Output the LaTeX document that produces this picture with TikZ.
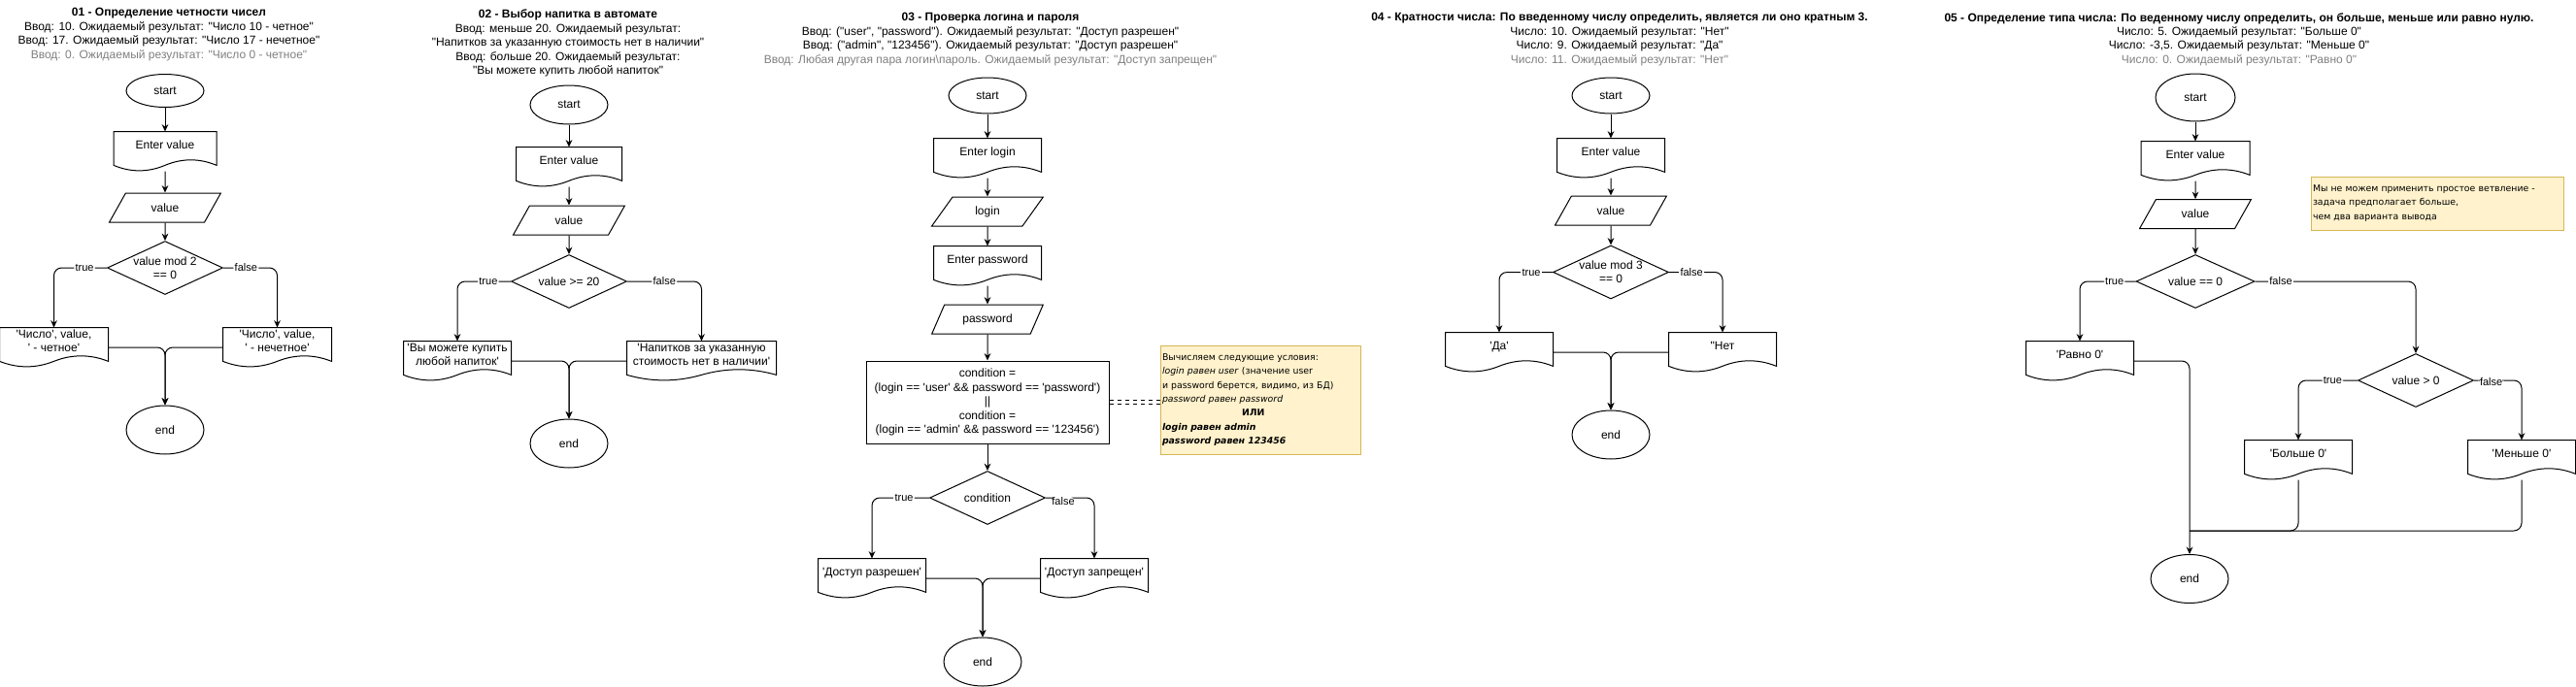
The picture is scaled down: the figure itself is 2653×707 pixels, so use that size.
\documentclass[tikz,border=0pt]{standalone}
\usepackage{fontspec}
\setmainfont{Liberation Sans}[Ligatures=TeXOff]
\newfontfamily\notefont{DejaVu Sans}[Ligatures=TeXOff]
\usetikzlibrary{shapes.geometric,arrows.meta,calc}
\definecolor{notefill}{HTML}{FFF2CC}
\definecolor{noteline}{HTML}{D6B656}
\definecolor{hintgray}{HTML}{808080}
\tikzset{
  term/.style={ellipse, draw, minimum width=60pt, minimum height=#1, inner sep=0pt},
  docbox/.style={minimum width=#1*0.75pt, minimum height=30pt, inner xsep=2pt, inner ysep=0pt, text depth=10pt, align=center},
  io/.style={trapezium, draw, trapezium left angle=56, trapezium right angle=124, trapezium stretches=true, minimum width=86.25pt, minimum height=22.5pt, inner sep=0pt},
  cond/.style={diamond, draw, minimum width=89.25pt, minimum height=41.25pt, inner sep=0pt},
  procbox/.style={draw, minimum width=187.5pt, minimum height=63.75pt, align=center},
  note/.style={draw=noteline, fill=notefill, font=\notefont\fontsize{7}{10.8}\selectfont, align=left, inner xsep=1.5pt},
  heading/.style={align=center},
  flow/.style={-{Stealth[length=5.5pt,width=5pt]}, rounded corners=6pt},
  merge/.style={rounded corners=6pt},
  lbl/.style={fill=white, inner sep=1pt, font=\fontsize{8.25}{9.9}\selectfont},
  notelink/.style={dashed, double, double distance=2pt}
}
\begin{document}
\begin{tikzpicture}[x=0.75pt, y=-0.75pt, line width=0.75pt, font=\fontsize{9}{10.8}\selectfont]
\useasboundingbox (0,0) rectangle (2653,707);

\node[heading] (t1) at (174,35.5) {\textbf{01 - Определение четности чисел}\\Ввод: 10. Ожидаемый результат: "Число 10 - четное"\\Ввод: 17. Ожидаемый результат: "Число 17 - нечетное"\\\textcolor{hintgray}{Ввод: 0. Ожидаемый результат: "Число 0 - четное"}};
\node[term=25.5pt] (s1) at (170,93.5) {start};
\node[docbox=105] (e1) at (170,156) {Enter value};
\node[io] (v1) at (170,214) {value};
\node[cond, label={[align=center]center:{value mod 2\\== 0}}] (q1) at (170,276) {};
\node[docbox=111] (o1a) at (55.5,358) {'Число', value,\\' - четное'};
\node[docbox=111] (o1b) at (285.5,358) {'Число', value,\\' - нечетное'};
\node[term=37.5pt] (f1) at (170,443) {end};
\draw[flow] (s1) -- (e1);
\draw[flow] (e1) -- (v1);
\draw[flow] (v1) -- (q1);
\draw[flow] (q1.west) -| node[lbl,pos=.21]{true} (o1a.north);
\draw[flow] (q1.east) -| node[lbl,pos=.21]{false} (o1b.north);
\draw[flow] (o1a.east) -| (f1.north);
\draw[flow] (o1b.west) -| (f1.north);

\node[heading] (t2) at (585,44.5) {\textbf{02 - Выбор напитка в автомате}\\Ввод: меньше 20. Ожидаемый результат:\\"Напитков за указанную стоимость нет в наличии"\\Ввод: больше 20. Ожидаемый результат:\\"Вы можете купить любой напиток"};
\node[term=30pt] (s2) at (586,108) {start};
\node[docbox=108] (e2) at (586,172) {Enter value};
\node[io] (v2) at (586,227) {value};
\node[cond, label={center:{value >= 20}}] (q2) at (586,290) {};
\node[docbox=110] (o2a) at (471,372) {'Вы можете купить\\любой напиток'};
\node[docbox=153] (o2b) at (722.5,372) {'Напитков за указанную\\стоимость нет в наличии'};
\node[term=37.5pt] (f2) at (586,457) {end};
\draw[flow] (s2) -- (e2);
\draw[flow] (e2) -- (v2);
\draw[flow] (v2) -- (q2);
\draw[flow] (q2.west) -| node[lbl,pos=.21]{true} (o2a.north);
\draw[flow] (q2.east) -| node[lbl,pos=.25]{false} (o2b.north);
\draw[flow] (o2a.east) -| (f2.north);
\draw[flow] (o2b.west) -| (f2.north);

\node[heading] (t3) at (1020,40.5) {\textbf{03 - Проверка логина и пароля}\\Ввод: ("user", "password"). Ожидаемый результат: "Доступ разрешен"\\Ввод: ("admin", "123456"). Ожидаемый результат: "Доступ разрешен"\\\textcolor{hintgray}{Ввод: Любая другая пара логин\textbackslash пароль. Ожидаемый результат: "Доступ запрещен"}};
\node[term=27.75pt] (s3) at (1017,98.5) {start};
\node[docbox=110] (e3a) at (1017,163) {Enter login};
\node[io] (v3a) at (1017,218) {login};
\node[docbox=110] (e3b) at (1017,274) {Enter password};
\node[io] (v3b) at (1017,329) {password};
\node[procbox] (c3) at (1017,414.5) {condition =\\(login == 'user' \&\& password == 'password')\\||\\condition =\\(login == 'admin' \&\& password == '123456')};
\node[note, text width=151.5pt, minimum height=84pt] (n3) at (1298,412) {Вычисляем следующие условия:\\\textit{login равен user} (значение user\\и password берется, видимо, из БД)\\\textit{password равен password}\\\hspace*{61.5pt}\textbf{ИЛИ}\\\textbf{\textit{login равен admin}}\\\textbf{\textit{password равен 123456}}};
\node[cond, label={center:condition}] (q3) at (1017,513) {};
\node[docbox=110] (o3a) at (898,596) {'Доступ разрешен'};
\node[docbox=110] (o3b) at (1127,596) {'Доступ запрещен'};
\node[term=37.5pt] (f3) at (1012,682) {end};
\draw[flow] (s3) -- (e3a);
\draw[flow] (e3a) -- (v3a);
\draw[flow] (v3a) -- (e3b);
\draw[flow] (e3b) -- (v3b);
\draw[flow] (v3b) -- (c3);
\draw[flow] (c3) -- (q3);
\draw[notelink] (c3.east) -- (c3.east -| n3.west);
\draw[flow] (q3.west) -| node[lbl,pos=.22]{true} (o3a.north);
\draw[flow] (q3.east) -| node[lbl,pos=.18,yshift=-3pt]{false} (o3b.north);
\draw[flow] (o3a.east) -| (f3.north);
\draw[flow] (o3b.west) -| (f3.north);

\node[heading] (t4) at (1668,40.5) {\textbf{04 - Кратности числа: По введенному числу определить, является ли оно кратным 3.}\\Число: 10. Ожидаемый результат: "Нет"\\Число: 9. Ожидаемый результат: "Да"\\\textcolor{hintgray}{Число: 11. Ожидаемый результат: "Нет"}};
\node[term=27.75pt] (s4) at (1659,98.5) {start};
\node[docbox=110] (e4) at (1659,163) {Enter value};
\node[io] (v4) at (1659,217) {value};
\node[cond, label={[align=center]center:{value mod 3\\== 0}}] (q4) at (1659,280.5) {};
\node[docbox=110] (o4a) at (1544,363) {'Да'};
\node[docbox=110] (o4b) at (1774,363) {"Нет};
\node[term=37.5pt] (f4) at (1659,448) {end};
\draw[flow] (s4) -- (e4);
\draw[flow] (e4) -- (v4);
\draw[flow] (v4) -- (q4);
\draw[flow] (q4.west) -| node[lbl,pos=.2]{true} (o4a.north);
\draw[flow] (q4.east) -| node[lbl,pos=.21]{false} (o4b.north);
\draw[flow] (o4a.east) -| (f4.north);
\draw[flow] (o4b.west) -| (f4.north);

\node[heading] (t5) at (2306,40.5) {\textbf{05 - Определение типа числа: По веденному числу определить, он больше, меньше или равно нулю.}\\Число: 5. Ожидаемый результат: "Больше 0"\\Число: -3,5. Ожидаемый результат: "Меньше 0"\\\textcolor{hintgray}{Число: 0. Ожидаемый результат: "Равно 0"}};
\node[term=36.75pt, minimum width=61.5pt] (s5) at (2261,100.5) {start};
\node[docbox=111] (e5) at (2261,166) {Enter value};
\node[io] (v5) at (2261,220.5) {value};
\node[cond, minimum width=91.5pt, label={center:{value == 0}}] (q5) at (2261,290) {};
\node[note, text width=192pt, minimum height=41.25pt] (n5) at (2510,209.5) {Мы не можем применить простое ветвление -\\задача предполагает больше,\\чем два варианта вывода};
\node[docbox=110] (o5a) at (2142,372) {'Равно 0'};
\node[cond, label={center:{value > 0}}] (q5b) at (2488,392) {};
\node[docbox=110] (o5b) at (2367,474) {'Больше 0'};
\node[docbox=110] (o5c) at (2597,474) {'Меньше 0'};
\node[term=37.5pt] (f5) at (2255,596.5) {end};
\coordinate (m5) at (2255,547);
\draw[flow] (s5) -- (e5);
\draw[flow] (e5) -- (v5);
\draw[flow] (v5) -- (q5);
\draw[flow] (q5.west) -| node[lbl,pos=.19]{true} (o5a.north);
\draw[flow] (q5.east) -| node[lbl,pos=.08]{false} (q5b.north);
\draw[flow] (q5b.west) -| node[lbl,pos=.21]{true} (o5b.north);
\draw[flow] (q5b.east) -| node[lbl,pos=.18,yshift=-1.5pt]{false} (o5c.north);
\draw[flow] (o5a.east) -| (f5.north);
\draw[merge] (o5b.south) |- (m5);
\draw[merge] (o5c.south) |- (m5);

\foreach \d in {e1,o1a,o1b,e2,o2a,o2b,e3a,e3b,o3a,o3b,e4,o4a,o4b,e5,o5a,o5b,o5c}
  \draw let \p1=(\d.north west), \p2=(\d.south east), \n1={\x2-\x1}, \n2={\y1-\y2} in
    (\x1,\y1) -- (\x2,\y1) -- (\x2,{\y1-0.85*\n2})
    .. controls ({\x1+0.8333*\n1},{\y1-0.67*\n2}) and ({\x1+0.6667*\n1},{\y1-0.67*\n2}) .. ({\x1+0.5*\n1},{\y1-0.85*\n2})
    .. controls ({\x1+0.3333*\n1},{\y1-1.03*\n2}) and ({\x1+0.1667*\n1},{\y1-1.03*\n2}) .. (\x1,{\y1-0.85*\n2}) -- cycle;
\end{tikzpicture}
\end{document}
